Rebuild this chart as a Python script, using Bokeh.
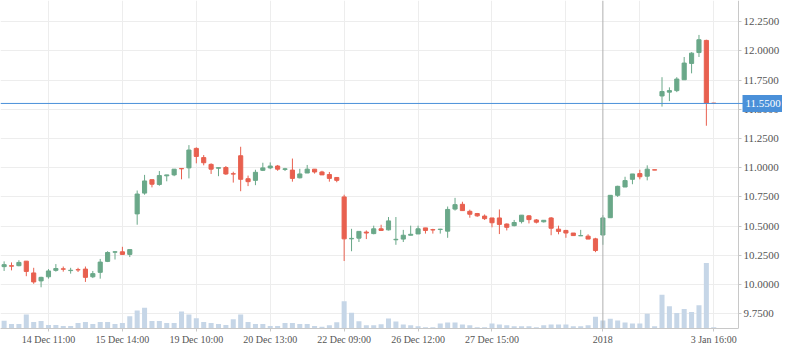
from bokeh.plotting import figure
from bokeh.models import (FixedTicker, Range1d, Span, Label, ColumnDataSource,
                          PrintfTickFormatter, BoxAnnotation)
from bokeh.embed import file_html
from bokeh.resources import INLINE

# ---- data ----
opens = [10.152, 10.160, 10.160, 10.199, 10.098, 10.030, 10.065, 10.120, 10.133, 10.118,
         10.126, 10.131, 10.065, 10.103, 10.197, 10.276, 10.279, 10.257, 10.604, 10.782,
         10.897, 10.856, 10.930, 10.938, 10.993, 10.998, 11.165, 11.086, 11.028, 10.995,
         11.001, 10.948, 11.102, 10.905, 10.891, 10.977, 10.998, 11.014, 10.985, 10.979,
         10.913, 10.954, 10.987, 10.963, 10.941, 10.916, 10.749, 10.390, 10.396, 10.448,
         10.435, 10.476, 10.467, 10.382, 10.388, 10.421, 10.432, 10.484, 10.469, 10.470,
         10.456, 10.645, 10.686, 10.626, 10.607, 10.585, 10.569, 10.569, 10.517, 10.503,
         10.538, 10.587, 10.552, 10.536, 10.569, 10.473, 10.462, 10.440, 10.416, 10.413,
         10.390, 10.423, 10.571, 10.763, 10.834, 10.900, 10.949, 10.927, 10.982, 11.614,
         11.647, 11.660, 11.753, 11.893, 11.986, 12.090, 11.553]
highs = [10.197, 10.188, 10.207, 10.199, 10.142, 10.065, 10.131, 10.174, 10.153, 10.142,
         10.142, 10.153, 10.115, 10.218, 10.284, 10.284, 10.322, 10.298, 10.804, 10.938,
         10.897, 10.971, 10.938, 10.987, 10.995, 11.193, 11.174, 11.108, 11.037, 11.000,
         11.014, 10.965, 11.179, 10.932, 10.982, 11.042, 11.045, 11.023, 10.998, 11.078,
         10.990, 11.023, 10.987, 10.973, 10.963, 10.919, 10.768, 10.476, 10.454, 10.462,
         10.503, 10.511, 10.577, 10.577, 10.467, 10.503, 10.503, 10.484, 10.476, 10.476,
         10.667, 10.741, 10.708, 10.640, 10.612, 10.599, 10.569, 10.642, 10.522, 10.552,
         10.593, 10.593, 10.560, 10.549, 10.577, 10.503, 10.467, 10.440, 10.467, 10.429,
         10.399, 10.593, 10.763, 10.845, 10.922, 10.946, 10.982, 11.020, 10.982, 11.775,
         11.688, 11.775, 11.948, 11.989, 12.137, 12.096, 11.553]
lows = [10.115, 10.120, 10.155, 10.070, 10.005, 9.975, 10.049, 10.109, 10.109, 10.092,
        10.106, 10.021, 10.054, 10.049, 10.191, 10.213, 10.251, 10.234, 10.511, 10.768,
        10.831, 10.845, 10.883, 10.927, 10.900, 10.908, 11.037, 11.020, 10.946, 10.927,
        10.938, 10.872, 10.798, 10.842, 10.850, 10.971, 10.987, 10.973, 10.971, 10.880,
        10.908, 10.954, 10.949, 10.938, 10.880, 10.875, 10.200, 10.284, 10.363, 10.388,
        10.429, 10.462, 10.462, 10.339, 10.363, 10.421, 10.432, 10.435, 10.435, 10.435,
        10.399, 10.632, 10.632, 10.571, 10.579, 10.552, 10.489, 10.431, 10.462, 10.497,
        10.522, 10.522, 10.522, 10.530, 10.421, 10.429, 10.399, 10.418, 10.416, 10.388,
        10.276, 10.339, 10.571, 10.749, 10.834, 10.858, 10.900, 10.891, 10.979, 11.523,
        11.570, 11.647, 11.753, 11.808, 11.948, 11.359, 11.546]
closes = [10.169, 10.156, 10.188, 10.111, 10.021, 10.060, 10.115, 10.136, 10.130, 10.121,
          10.124, 10.060, 10.092, 10.191, 10.273, 10.279, 10.257, 10.298, 10.774, 10.886,
          10.858, 10.932, 10.938, 10.987, 10.990, 11.151, 11.096, 11.042, 10.987, 11.000,
          10.946, 10.945, 10.900, 10.880, 10.960, 10.998, 11.014, 10.987, 10.990, 10.908,
          10.946, 10.987, 10.963, 10.938, 10.908, 10.891, 10.390, 10.394, 10.454, 10.440,
          10.476, 10.462, 10.544, 10.386, 10.421, 10.429, 10.476, 10.462, 10.466, 10.473,
          10.642, 10.683, 10.632, 10.601, 10.587, 10.563, 10.528, 10.514, 10.489, 10.530,
          10.593, 10.555, 10.533, 10.549, 10.481, 10.454, 10.440, 10.418, 10.418, 10.388,
          10.290, 10.569, 10.763, 10.840, 10.889, 10.946, 10.922, 10.987, 10.979, 11.652,
          11.660, 11.759, 11.896, 11.981, 12.096, 11.551, 11.550]
volumes = [800, 470, 470, 1470, 670, 770, 370, 370, 270, 270,
           570, 670, 470, 670, 670, 470, 570, 1270, 1870, 2170,
           770, 770, 570, 570, 1770, 1470, 1070, 670, 570, 470,
           370, 970, 1470, 670, 470, 470, 270, 270, 570, 570,
           470, 470, 270, 170, 350, 650, 2850, 1650, 750, 350,
           350, 450, 1050, 730, 430, 330, 230, 130, 130, 530,
           630, 630, 430, 330, 130, 130, 530, 430, 330, 230,
           230, 230, 130, 330, 430, 430, 430, 230, 230, 330,
           1230, 830, 1030, 830, 630, 530, 530, 1530, 230, 3530,
           2330, 1630, 2030, 1730, 2430, 6830, 130]

tick_index = [6, 16, 26, 36, 46, 56, 66, 81, 96]
tick_labels = ["14 Dec 11:00", "15 Dec 14:00", "19 Dec 10:00", "20 Dec 13:00",
               "22 Dec 09:00", "26 Dec 12:00", "27 Dec 15:00", "2018", "3 Jan 16:00"]
grid_index = [6, 16, 26, 36, 46, 56, 66, 76, 86, 96]
price_ticks = [9.75, 10.0, 10.25, 10.5, 10.75, 11.0, 11.25, 11.5, 11.75, 12.0, 12.25]
last_price = 11.55
cross_index = 81

GREEN = "#6aa889"
RED = "#e8604f"
BLUE = "#4a90d9"
FONT = "Liberation Serif"

X_START, X_AXIS, X_END = -0.49, 99.35, 105.30   # price axis sits at X_AXIS

idx = list(range(len(opens)))
colors = [GREEN if c >= o else RED for o, c in zip(opens, closes)]
src = ColumnDataSource(dict(
    x=idx, o=opens, h=highs, l=lows, c=closes, v=volumes,
    top=[max(o, c) for o, c in zip(opens, closes)],
    bot=[min(o, c) for o, c in zip(opens, closes)],
    color=colors,
))

p = figure(width=782, height=347, output_backend="svg", toolbar_location=None,
           x_range=Range1d(X_START, X_END), y_range=Range1d(9.622, 12.432),
           y_axis_location="right",
           min_border_left=0, min_border_top=0, min_border_right=0, min_border_bottom=0)
p.outline_line_color = None
p.background_fill_color = "white"
p.extra_y_ranges = {"vol": Range1d(0, 34230)}

# grids
p.xgrid.ticker = FixedTicker(ticks=grid_index)
p.xgrid.grid_line_color = "#ededed"
p.ygrid.grid_line_color = "#ededed"
# blank strip right of the price axis (grid lines stop at the axis)
p.add_layout(BoxAnnotation(left=X_AXIS, fill_color="white", fill_alpha=1.0,
                           line_color=None, level="underlay"))

# volume
p.vbar(x="x", top="v", bottom=0, width=0.68, y_range_name="vol", source=src,
       fill_color="#c6d6e7", line_color=None)

# candles
p.segment(x0="x", y0="h", x1="x", y1="l", source=src, line_color="color", line_width=1)
p.vbar(x="x", top="top", bottom="bot", width=0.56, source=src,
       fill_color="color", line_color="color", line_width=1)

# crosshair lines
p.add_layout(Span(location=cross_index, dimension="height", line_color="#b0b0b0", line_width=1))
p.add_layout(Span(location=last_price, dimension="width", line_color=BLUE, line_width=1))

# axes
p.yaxis.fixed_location = X_AXIS
p.yaxis.ticker = FixedTicker(ticks=price_ticks)
p.yaxis.formatter = PrintfTickFormatter(format="%.4f")
p.xaxis.ticker = FixedTicker(ticks=tick_index)
p.xaxis.bounds = (X_START, X_AXIS)
p.xaxis.major_label_overrides = {i: t for i, t in zip(tick_index, tick_labels)}
for ax in (p.xaxis, p.yaxis):
    ax.axis_line_color = "#c8c8c8"
    ax.major_tick_line_color = "#c8c8c8"
    ax.major_tick_in = 0
    ax.major_tick_out = 3
    ax.minor_tick_line_color = None
    ax.major_label_text_font = FONT
    ax.major_label_text_color = "#555555"
    ax.major_label_standoff = 2
p.xaxis.major_label_text_font_size = "10px"
p.yaxis.major_label_text_font_size = "11px"

p.add_layout(Label(x=X_AXIS, y=last_price, text="%.4f" % last_price, x_offset=4,
                   text_align="left", text_baseline="middle",
                   text_font=FONT, text_font_size="11px", text_color="white",
                   background_fill_color=BLUE, padding=(3, 5)))

open("out.html", "w").write(file_html(p, INLINE))
